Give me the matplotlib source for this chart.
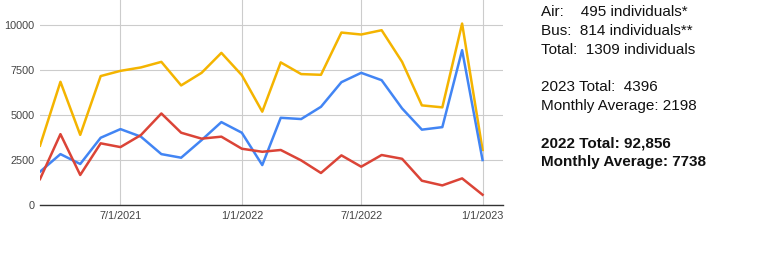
import numpy as np
import pandas as pd
from matplotlib import pyplot as plt
import matplotlib.dates as mdates

# monthly values, 3/2021 .. 1/2023
months = pd.date_range('2021-03-01', '2023-01-01', freq='MS')
total = [3300, 6850, 3900, 7170, 7460, 7650, 7960, 6650, 7350, 8460, 7220,
         5190, 7930, 7280, 7240, 9590, 9480, 9720, 7960, 5540, 5430, 10090, 3060]
air = [1850, 2830, 2280, 3740, 4220, 3800, 2830, 2630, 3610, 4610, 4020,
       2220, 4850, 4780, 5460, 6830, 7350, 6940, 5370, 4190, 4330, 8610, 2500]
bus = [1440, 3940, 1670, 3430, 3220, 3890, 5090, 4020, 3690, 3800, 3130,
       2960, 3060, 2480, 1780, 2760, 2130, 2780, 2570, 1350, 1090, 1480, 570]
yticks = [0, 2500, 5000, 7500, 10000]
xticks = pd.to_datetime(['2021-07-01', '2022-01-01', '2022-07-01', '2023-01-01'])
xticklabels = ['7/1/2021', '1/1/2022', '7/1/2022', '1/1/2023']

notes = ['Air:    495 individuals*', 'Bus:  814 individuals**', 'Total:  1309 individuals',
         '', '2023 Total:  4396', 'Monthly Average: 2198',
         '', '2022 Total: 92,856', 'Monthly Average: 7738']
bold_from = 7

plt.rcParams['font.family'] = ['Liberation Sans', 'DejaVu Sans']
fig = plt.figure(figsize=(7.68, 2.56), dpi=100)
ax = fig.add_axes([40/768, 1-205/256, 463/768, 205/256])

ax.plot(months, total, color='#F4B400', lw=1.8)
ax.plot(months, air, color='#4285F4', lw=1.8)
ax.plot(months, bus, color='#DB4437', lw=1.8)

ax.set_xlim(pd.Timestamp('2021-03-01'), pd.Timestamp('2023-02-01'))
ax.set_ylim(0, 11400)
ax.set_yticks(yticks)
ax.set_yticklabels([str(v) for v in yticks])
ax.set_xticks(xticks)
ax.set_xticklabels(xticklabels)
ax.tick_params(length=0, labelsize=7.8, colors='#444444', pad=4)
ax.grid(True, color='#cccccc', lw=0.8)
for s in ['top', 'right', 'left']:
    ax.spines[s].set_visible(False)
ax.spines['bottom'].set_color('#333333')
ax.spines['bottom'].set_linewidth(1)

y = 12
for i, t in enumerate(notes):
    fig.text(541/768, 1-y/256, t, fontsize=11, va='center', ha='left', color='#111111',
             fontweight='bold' if i >= bold_from else 'normal')
    y += 18.8

fig.savefig('out.png', dpi=100)
